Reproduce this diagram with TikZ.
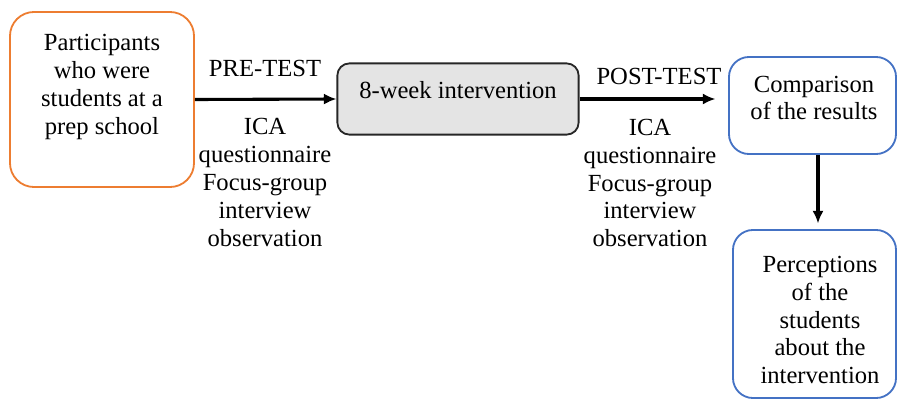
\documentclass[tikz,border=0pt]{standalone}
\usepackage{fontspec}
\setmainfont{Liberation Serif}
\usetikzlibrary{arrows.meta}
\definecolor{boxorange}{RGB}{237,125,49}
\definecolor{boxblue}{RGB}{68,114,196}
\definecolor{boxgray}{RGB}{228,228,228}

\begin{document}
\begin{tikzpicture}[
    x=0.025cm, y=-0.025cm,
    every node/.style={anchor=center, font=\fontsize{17.5}{19.8}\selectfont},
    txt/.style={align=center, inner sep=0pt},
    box/.style={draw, line width=1.3pt, inner sep=0pt},
    start/.style={box, draw=boxorange, rounded corners=0.6cm, minimum width=4.6cm, minimum height=4.375cm},
    step box/.style={box, draw=black!85, fill=boxgray, rounded corners=0.3cm, minimum width=6.03cm, minimum height=1.78cm},
    result/.style={box, draw=boxblue, rounded corners=0.5cm},
    arrow/.style={-{Latex[length=9pt,width=8pt]}, line width=2.2pt}
    ]
\useasboundingbox (0,0) rectangle (897,401);

% Boxes
\node[start] (participants) at (102,99.5) {};
\node[txt] (participants text) at (102,87) {Participants\\who were\\students at a\\prep school};

\node[step box] (intervention) at (458,99) {};
\node[txt] (intervention text) at (458,90) {8-week intervention};

\node[result, minimum width=4.175cm, minimum height=2.425cm] (comparison) at (812.5,105.5) {};
\node[txt] (comparison text) at (814,98) {Comparison\\of the results};

\node[result, minimum width=4.075cm, minimum height=4.2cm] (perceptions) at (814.5,314) {};
\node[txt] (perceptions text) at (820,320) {Perceptions\\of the\\students\\about the\\intervention};

% Test labels
\node[txt] (pre) at (265,68) {PRE-TEST};
\node[txt] (pre tools) at (265,182.5) {ICA\\questionnaire\\Focus-group\\interview\\observation};

\node[txt] (post) at (659,76) {POST-TEST};
\node[txt] (post tools) at (650,183) {ICA\\questionnaire\\Focus-group\\interview\\observation};

% Arrows
\draw[arrow] (participants.east) -- (intervention.west);
\draw[arrow, shorten >=9pt] (intervention.east) -- (intervention.east -| comparison.west);
\draw[arrow, shorten >=4pt] (comparison.south -| 818,0) -- (perceptions.north -| 818,0);

\end{tikzpicture}
\end{document}
